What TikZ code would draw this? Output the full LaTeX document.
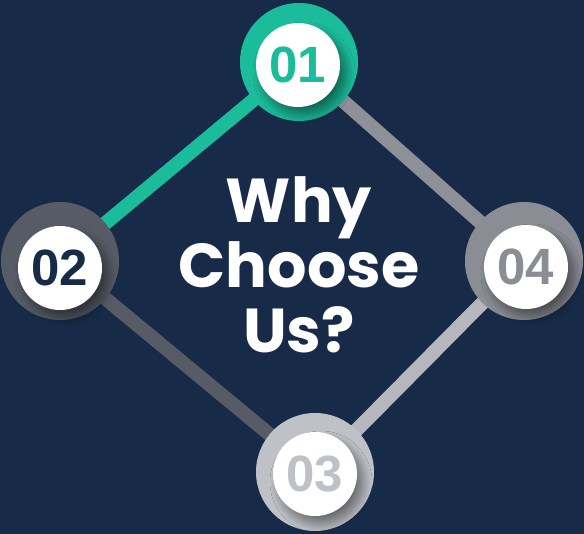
\documentclass[tikz,border=0pt]{standalone}
\usepackage{fontspec}
\setmainfont{Liberation Sans}
\newfontfamily\titlefont{Poppins}
\usetikzlibrary{backgrounds,shadows.blur}

\definecolor{navybg}{HTML}{172B48}
\definecolor{tealc}{HTML}{1BBC9B}
\definecolor{darkgreyc}{HTML}{565B65}
\definecolor{midgreyc}{HTML}{8A8D94}
\definecolor{lightgreyc}{HTML}{BEC1C6}

\tikzset{
  ring/.style={circle,minimum size=118pt,inner sep=0pt},
  disc/.style={circle,fill=white,minimum size=84pt,inner sep=0pt,
    font=\fontsize{51}{51}\selectfont\bfseries,
    blur shadow={shadow xshift=6pt,shadow yshift=-8pt,shadow blur steps=16,shadow blur radius=9pt,shadow opacity=45}},
  link/.style={line width=14pt}
}

\begin{document}
\begin{tikzpicture}[x=1pt,y=-1pt]
  \useasboundingbox (0,0) rectangle (584,534);

  % outer rings
  \node[ring,fill=tealc] (r01) at (299,62) {};
  \node[ring,fill=darkgreyc] (r02) at (60,261) {};
  \node[ring,fill=lightgreyc] (r03) at (315,472) {};
  \node[ring,fill=midgreyc] (r04) at (524,261) {};

  % numbers
  \node[disc,text=tealc] (d01) at (298,65) {01};
  \node[disc,text=navybg] (d02) at (60,268) {02};
  \node[disc,text=lightgreyc] (d03) at (315,474) {03};
  \node[disc,text=midgreyc] (d04) at (526,267) {04};

  % title
  \node[text=white,align=center,font=\titlefont\fontsize{62}{65}\selectfont\bfseries]
    (title) at (299,265) {Why\\Choose\\Us?};

  \begin{pgfonlayer}{background}
    \fill[navybg] (0,0) rectangle (584,534);
    \draw[link,tealc] (r01.center) -- (r02.center);
    \draw[link,midgreyc!97!white] (r01.center) -- (r04.center);
    \draw[link,darkgreyc] (r02.center) -- (r03.center);
    \draw[link,lightgreyc!95!black] (r03.center) -- (r04.center);
  \end{pgfonlayer}
\end{tikzpicture}
\end{document}
